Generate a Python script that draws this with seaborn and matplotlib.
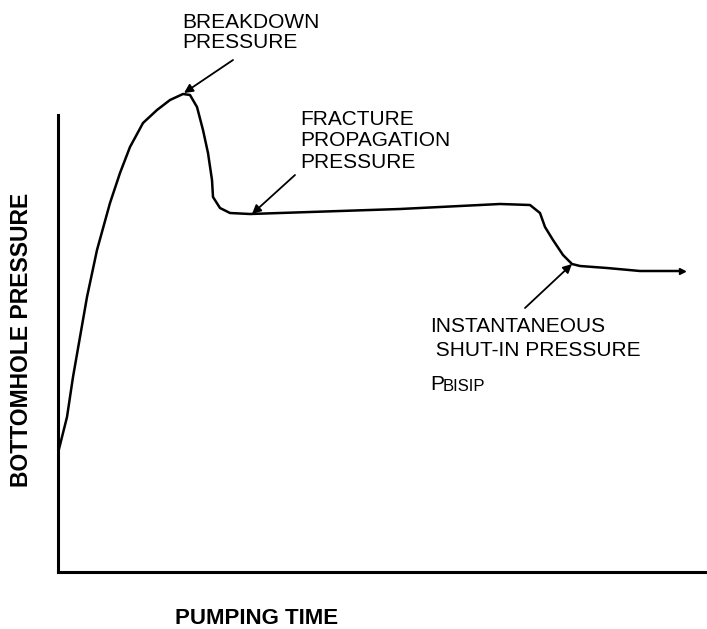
import matplotlib
matplotlib.use("Agg")
import matplotlib.pyplot as plt
import seaborn as sns
import pandas as pd

# pump-in test curve (arbitrary units)
pumping_time = [0, 9, 15, 22, 29, 39, 52, 62, 72, 85, 99, 112, 125, 132, 139,
                145, 150, 154, 155, 162, 172, 192, 342, 442, 472, 482, 487,
                495, 505, 514, 522, 549, 582, 615, 624]
bottomhole_pressure = [119, 155, 195, 235, 275, 322, 369, 399, 425, 449, 462,
                       472, 478, 477, 465, 442, 419, 392, 375, 364, 359, 358,
                       363, 368, 367, 359, 345, 332, 317, 308, 306, 304, 301,
                       301, 301]

sns.set_style("white")
plt.rcParams['font.family'] = ['Liberation Sans', 'DejaVu Sans']
plt.rcParams['text.color'] = 'black'

df = pd.DataFrame({'time': pumping_time, 'pressure': bottomhole_pressure})

fig = plt.figure(figsize=(7.07, 6.29), dpi=100)
ax = fig.add_axes([58 / 707, 1 - 572 / 629, 649 / 707, 492 / 629])

sns.lineplot(data=df, x='time', y='pressure', ax=ax, color='black',
             linewidth=1.8, sort=False)
ax.plot(pumping_time[-1], bottomhole_pressure[-1], marker='>', color='black',
        markersize=4)

ax.set_xlim(0, 649)
ax.set_ylim(0, 492)
ax.set_xticks([])
ax.set_yticks([])
ax.set_xlabel('')
ax.set_ylabel('')
for side in ['top', 'right']:
    ax.spines[side].set_visible(False)
for side in ['left', 'bottom']:
    ax.spines[side].set_linewidth(2.2)
    ax.spines[side].set_color('black')
ax.spines['left'].set_bounds(0, 457)

arrow = dict(arrowstyle='-|>', color='black', lw=1.3, mutation_scale=13,
             shrinkA=0, shrinkB=0)
fs = 15

ax.text(124, 559, 'BREAKDOWN\nPRESSURE', ha='left', va='top', fontsize=fs,
        linespacing=1.1, color='black')
ax.annotate('', xy=(126, 479), xytext=(175, 512), arrowprops=arrow,
            annotation_clip=False)

ax.text(242, 462, 'FRACTURE\nPROPAGATION\nPRESSURE', ha='left', va='top',
        fontsize=fs, linespacing=1.15, color='black')
ax.annotate('', xy=(194, 358), xytext=(237, 397), arrowprops=arrow)

ax.text(372, 255, 'INSTANTANEOUS\n SHUT-IN PRESSURE', ha='left', va='top',
        fontsize=fs, linespacing=1.3, color='black')
ax.annotate('', xy=(514, 308), xytext=(467, 264), arrowprops=arrow)
ax.text(372, 178, 'P', ha='left', va='bottom', fontsize=fs, color='black')
ax.text(385, 178, 'BISIP', ha='left', va='bottom', fontsize=fs - 3,
        color='black')

fig.text(22 / 707, 1 - 340 / 629, 'BOTTOMHOLE PRESSURE', rotation=90,
         ha='center', va='center', fontsize=16.5, fontweight='bold',
         color='black')
fig.text(257 / 707, 1 - 619 / 629, 'PUMPING TIME', ha='center', va='center',
         fontsize=16, fontweight='bold', color='black')

fig.savefig('out.png', dpi=100)
